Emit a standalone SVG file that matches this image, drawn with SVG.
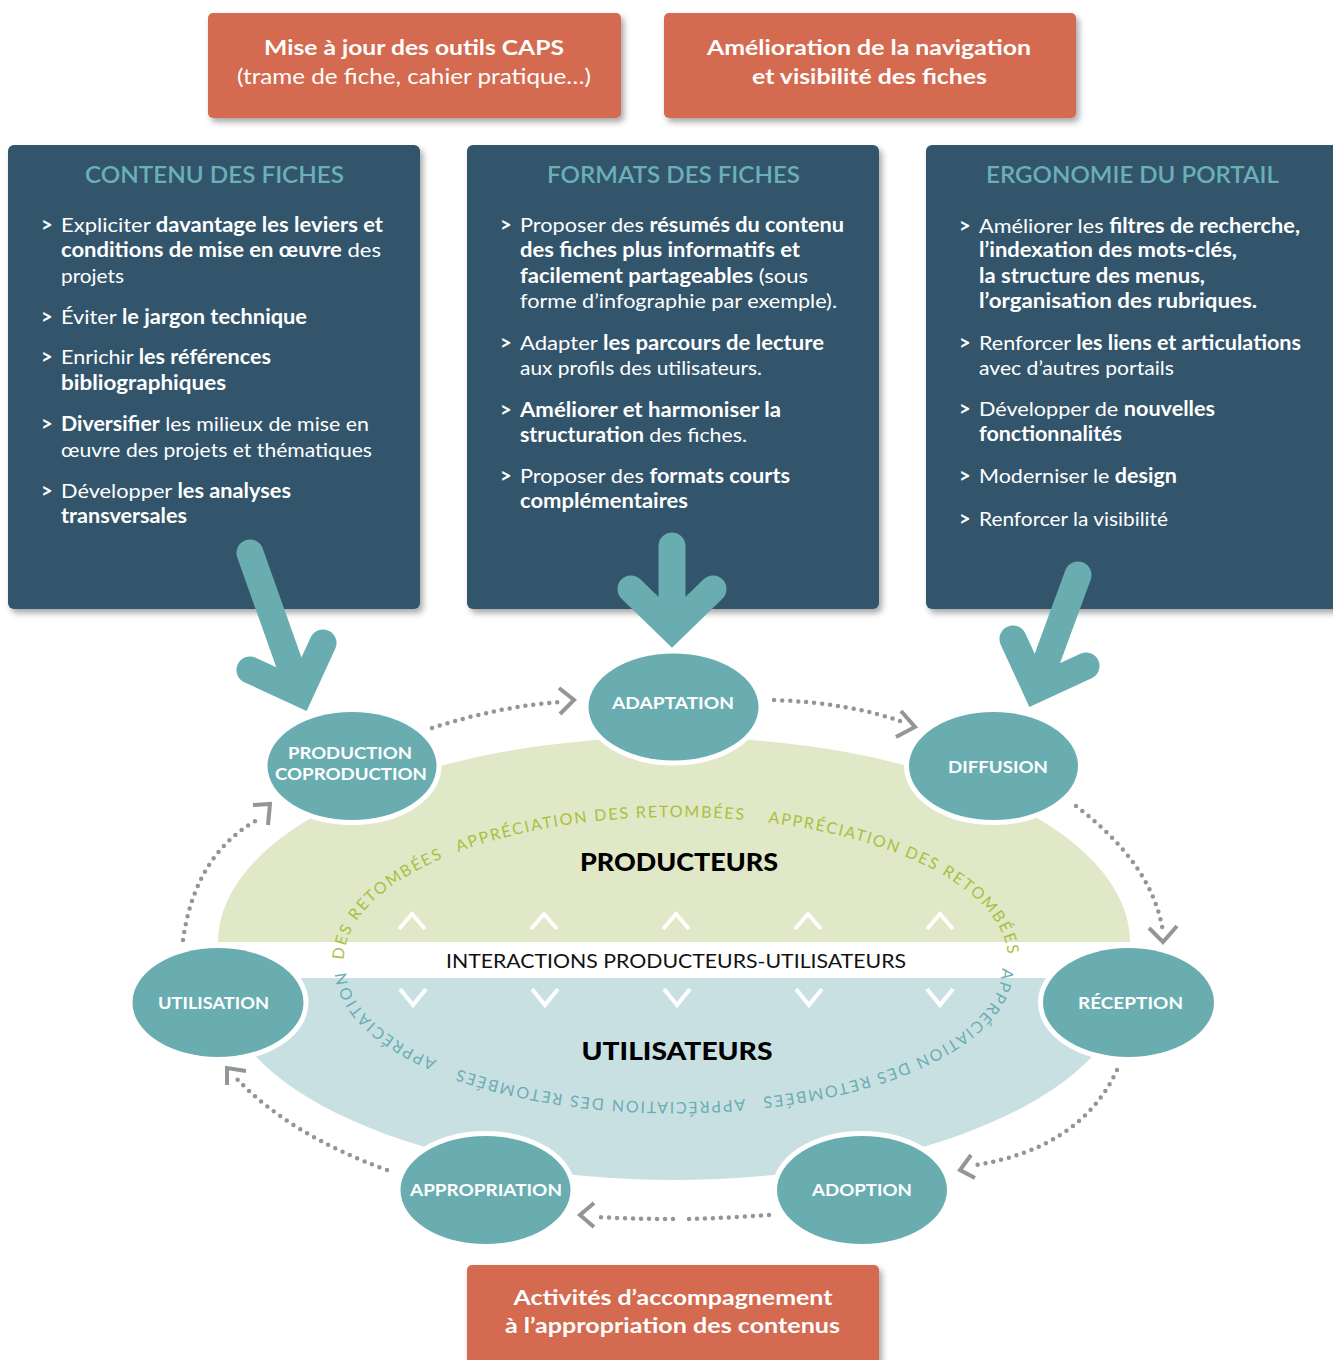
<svg xmlns="http://www.w3.org/2000/svg" xmlns:xlink="http://www.w3.org/1999/xlink" width="1333" height="1360" viewBox="0 0 1333 1360">
<defs>
<style>
text{font-family:Lato,"Noto Sans","Liberation Sans",sans-serif}
.b{font-weight:700}
.ob{fill:#D46A4F}
.otx{fill:#fff;font-size:21.5px;text-anchor:middle}
.panel{fill:#31546C}
.pt{fill:#6BB0B4;font-size:23px;font-weight:600;text-anchor:middle}
.tx{fill:#fff;font-size:20px}
.gt{fill:#fff;font-size:20px;font-weight:700}
.node ellipse{fill:#69ADB1;stroke:#fff;stroke-width:10;paint-order:stroke}
.nl{fill:#fff;font-size:17px;font-weight:700;text-anchor:middle}
.big{stroke:#69ADB1;stroke-width:27;fill:none;stroke-linecap:round;stroke-linejoin:miter}
.dot{stroke:#939598;stroke-width:4.5;stroke-dasharray:0 8;stroke-linecap:round;fill:none}
.chev{stroke:#939598;stroke-width:4;fill:none}
.arcG{fill:#A9C03E;font-size:16px;letter-spacing:1.8px}
.arcB{fill:#6AAEB2;font-size:16px;letter-spacing:1.8px}
.wch{stroke:#fff;stroke-width:4;fill:none}
.big2{fill:#000;font-size:25px;font-weight:900;text-anchor:middle}
</style>
<filter id="sh" x="-5%" y="-5%" width="115%" height="120%">
<feDropShadow dx="3" dy="4" stdDeviation="3" flood-color="#000" flood-opacity="0.35"/>
</filter>
<path id="arcTop" d="M344,960 A332,143 0 0 1 1008,960"/>
<path id="arcBot" d="M1002,968 A328,134 0 0 1 346,968"/>
</defs>

<g id="box-caps">
<rect class="ob" x="208" y="13" width="413" height="105" rx="5" filter="url(#sh)"/>
<text class="otx b" x="414" y="55" textLength="300" lengthAdjust="spacingAndGlyphs">Mise à jour des outils CAPS</text>
<text class="otx" x="414" y="84" textLength="354" lengthAdjust="spacingAndGlyphs">(trame de fiche, cahier pratique…)</text>
</g>
<g id="box-navigation">
<rect class="ob" x="664" y="13" width="412" height="105" rx="5" filter="url(#sh)"/>
<text class="otx b" x="869" y="55" textLength="324" lengthAdjust="spacingAndGlyphs">Amélioration de la navigation</text>
<text class="otx b" x="869.5" y="84" textLength="235" lengthAdjust="spacingAndGlyphs">et visibilité des fiches</text>
</g>

<g id="panel-contenu">
<rect class="panel" x="8" y="145" width="412" height="464" rx="6" filter="url(#sh)"/>
<text class="pt" x="214.5" y="183" textLength="259" lengthAdjust="spacingAndGlyphs">CONTENU DES FICHES</text>
<text class="gt" x="41" y="232">&gt;</text>
<text class="tx" x="61" y="232" textLength="322" lengthAdjust="spacingAndGlyphs">Expliciter <tspan class="b">davantage les leviers et</tspan></text>
<text class="tx" x="61" y="257" textLength="320" lengthAdjust="spacingAndGlyphs"><tspan class="b">conditions de mise en œuvre</tspan> des</text>
<text class="tx" x="61" y="283" textLength="63" lengthAdjust="spacingAndGlyphs">projets</text>
<text class="gt" x="41" y="324">&gt;</text>
<text class="tx" x="61" y="324" textLength="246" lengthAdjust="spacingAndGlyphs">Éviter <tspan class="b">le jargon technique</tspan></text>
<text class="gt" x="41" y="364">&gt;</text>
<text class="tx" x="61" y="364" textLength="210" lengthAdjust="spacingAndGlyphs">Enrichir <tspan class="b">les références</tspan></text>
<text class="tx b" x="61" y="390" textLength="165" lengthAdjust="spacingAndGlyphs">bibliographiques</text>
<text class="gt" x="41" y="431">&gt;</text>
<text class="tx" x="61" y="431" textLength="308" lengthAdjust="spacingAndGlyphs"><tspan class="b">Diversifier</tspan> les milieux de mise en</text>
<text class="tx" x="61" y="457" textLength="311" lengthAdjust="spacingAndGlyphs">œuvre des projets et thématiques</text>
<text class="gt" x="41" y="498">&gt;</text>
<text class="tx" x="61" y="498" textLength="230" lengthAdjust="spacingAndGlyphs">Développer <tspan class="b">les analyses</tspan></text>
<text class="tx b" x="61" y="523" textLength="126" lengthAdjust="spacingAndGlyphs">transversales</text>
</g>

<g id="panel-formats">
<rect class="panel" x="467" y="145" width="412" height="464" rx="6" filter="url(#sh)"/>
<text class="pt" x="673.5" y="183" textLength="253" lengthAdjust="spacingAndGlyphs">FORMATS DES FICHES</text>
<text class="gt" x="500" y="232">&gt;</text>
<text class="tx" x="520" y="232" textLength="324" lengthAdjust="spacingAndGlyphs">Proposer des <tspan class="b">résumés du contenu</tspan></text>
<text class="tx b" x="520" y="257" textLength="280" lengthAdjust="spacingAndGlyphs">des fiches plus informatifs et</text>
<text class="tx" x="520" y="283" textLength="288" lengthAdjust="spacingAndGlyphs"><tspan class="b">facilement partageables</tspan> (sous</text>
<text class="tx" x="520" y="308" textLength="317" lengthAdjust="spacingAndGlyphs">forme d’infographie par exemple).</text>
<text class="gt" x="500" y="350">&gt;</text>
<text class="tx" x="520" y="350" textLength="304" lengthAdjust="spacingAndGlyphs">Adapter <tspan class="b">les parcours de lecture</tspan></text>
<text class="tx" x="520" y="375" textLength="242" lengthAdjust="spacingAndGlyphs">aux profils des utilisateurs.</text>
<text class="gt" x="500" y="417">&gt;</text>
<text class="tx b" x="520" y="417" textLength="261" lengthAdjust="spacingAndGlyphs">Améliorer et harmoniser la</text>
<text class="tx" x="520" y="442" textLength="227" lengthAdjust="spacingAndGlyphs"><tspan class="b">structuration</tspan> des fiches.</text>
<text class="gt" x="500" y="483">&gt;</text>
<text class="tx" x="520" y="483" textLength="270" lengthAdjust="spacingAndGlyphs">Proposer des <tspan class="b">formats courts</tspan></text>
<text class="tx b" x="520" y="508" textLength="168" lengthAdjust="spacingAndGlyphs">complémentaires</text>
</g>

<g id="panel-ergonomie">
<rect class="panel" x="926" y="145" width="420" height="464" rx="6" filter="url(#sh)"/>
<text class="pt" x="1132.5" y="183" textLength="293" lengthAdjust="spacingAndGlyphs">ERGONOMIE DU PORTAIL</text>
<text class="gt" x="959" y="233">&gt;</text>
<text class="tx" x="979" y="233" textLength="321" lengthAdjust="spacingAndGlyphs">Améliorer les <tspan class="b">filtres de recherche,</tspan></text>
<text class="tx b" x="979" y="257" textLength="258" lengthAdjust="spacingAndGlyphs">l’indexation des mots-clés,</text>
<text class="tx b" x="979" y="283" textLength="226" lengthAdjust="spacingAndGlyphs">la structure des menus,</text>
<text class="tx b" x="979" y="308" textLength="278" lengthAdjust="spacingAndGlyphs">l’organisation des rubriques.</text>
<text class="gt" x="959" y="350">&gt;</text>
<text class="tx" x="979" y="350" textLength="322" lengthAdjust="spacingAndGlyphs">Renforcer <tspan class="b">les liens et articulations</tspan></text>
<text class="tx" x="979" y="375" textLength="195" lengthAdjust="spacingAndGlyphs">avec d’autres portails</text>
<text class="gt" x="959" y="416">&gt;</text>
<text class="tx" x="979" y="416" textLength="236" lengthAdjust="spacingAndGlyphs">Développer de <tspan class="b">nouvelles</tspan></text>
<text class="tx b" x="979" y="441" textLength="143" lengthAdjust="spacingAndGlyphs">fonctionnalités</text>
<text class="gt" x="959" y="483">&gt;</text>
<text class="tx" x="979" y="483" textLength="198" lengthAdjust="spacingAndGlyphs">Moderniser le <tspan class="b">design</tspan></text>
<text class="gt" x="959" y="526">&gt;</text>
<text class="tx" x="979" y="526" textLength="189" lengthAdjust="spacingAndGlyphs">Renforcer la visibilité</text>
</g>

<g id="box-accompagnement">
<rect class="ob" x="467" y="1265" width="412" height="110" rx="5" filter="url(#sh)"/>
<text class="otx b" x="673" y="1305" textLength="319" lengthAdjust="spacingAndGlyphs">Activités d’accompagnement</text>
<text class="otx b" x="672.5" y="1333" textLength="335" lengthAdjust="spacingAndGlyphs">à l’appropriation des contenus</text>
</g>

<g id="producteurs">
<path d="M218,942 A456,205 0 0 1 1130,942 Z" fill="#E0E8C8"/>
<text class="big2" x="679" y="871" textLength="198" lengthAdjust="spacingAndGlyphs">PRODUCTEURS</text>
<polyline class="wch" points="399,929 412,914 425,929"/>
<polyline class="wch" points="531,929 544,914 557,929"/>
<polyline class="wch" points="663,929 676,914 689,929"/>
<polyline class="wch" points="795,929 808,914 821,929"/>
<polyline class="wch" points="927,929 940,914 953,929"/>
<text class="arcG"><textPath href="#arcTop" startOffset="0">DES RETOMBÉES</textPath></text>
<text class="arcG"><textPath href="#arcTop" startOffset="166">APPRÉCIATION DES RETOMBÉES</textPath></text>
<text class="arcG"><textPath href="#arcTop" startOffset="480">APPRÉCIATION DES RETOMBÉES</textPath></text>
</g>

<g id="interactions">
<text x="676" y="968" font-size="19" fill="#111" text-anchor="middle" textLength="460" lengthAdjust="spacingAndGlyphs">INTERACTIONS PRODUCTEURS-UTILISATEURS</text>
</g>

<g id="utilisateurs">
<path d="M220,978 A454,202 0 0 0 1128,978 Z" fill="#C9E0E3"/>
<text class="big2" x="677" y="1060" textLength="191" lengthAdjust="spacingAndGlyphs">UTILISATEURS</text>
<polyline class="wch" points="400,989 413,1005 426,989"/>
<polyline class="wch" points="532,989 545,1005 558,989"/>
<polyline class="wch" points="664,989 677,1005 690,989"/>
<polyline class="wch" points="796,989 809,1005 822,989"/>
<polyline class="wch" points="927,989 940,1005 953,989"/>
<text class="arcB"><textPath href="#arcBot" startOffset="0">APPRÉCIATION DES RETOMBÉES</textPath></text>
<text class="arcB"><textPath href="#arcBot" startOffset="308">APPRÉCIATION DES RETOMBÉES</textPath></text>
<text class="arcB"><textPath href="#arcBot" startOffset="621">APPRÉCIATION</textPath></text>
</g>

<g id="connectors">
<line class="big" x1="250" y1="553" x2="298" y2="688"/>
<polyline class="big" points="250,670 300,693 323,643"/>
<line class="big" x1="672" y1="546" x2="672" y2="625"/>
<polyline class="big" points="631,589 672,629 713,589"/>
<line class="big" x1="1078" y1="575" x2="1038" y2="684"/>
<polyline class="big" points="1013,639 1036,689 1086,666"/>

<path class="dot" d="M432,728 Q500,706 562,702"/>
<polyline class="chev" points="559,688 574,700 560,714"/>
<path class="dot" d="M774,700 Q850,703 903,722"/>
<polyline class="chev" points="901,711 915,727 896,737"/>
<path class="dot" d="M1076,806 C1120,840 1155,880 1163,932"/>
<polyline class="chev" points="1149,928 1163,942 1177,926"/>
<path class="dot" d="M1117,1070 Q1080,1150 970,1166"/>
<polyline class="chev" points="971,1155 960,1170 975,1178"/>
<path class="dot" d="M769,1215 Q727,1218 686,1219"/>
<path class="dot" d="M673,1219 Q635,1219 597,1217"/>
<polyline class="chev" points="594,1203 580,1215 594,1227"/>
<path class="dot" d="M387,1170 Q290,1135 236,1078"/>
<polyline class="chev" points="227,1085 227,1068 246,1071"/>
<path class="dot" d="M183,940 Q195,855 257,820"/>
<polyline class="chev" points="253,805 270,804 268,825"/>
</g>

<g id="node-adaptation" class="node">
<ellipse cx="673.5" cy="707" rx="85" ry="53.5"/>
<text class="nl" x="673" y="709" textLength="122" lengthAdjust="spacingAndGlyphs">ADAPTATION</text>
</g>
<g id="node-production" class="node">
<ellipse cx="352" cy="766" rx="84.5" ry="54"/>
<text class="nl" x="350" y="759" textLength="124" lengthAdjust="spacingAndGlyphs">PRODUCTION</text>
<text class="nl" x="351" y="780" textLength="152" lengthAdjust="spacingAndGlyphs">COPRODUCTION</text>
</g>
<g id="node-diffusion" class="node">
<ellipse cx="993.5" cy="766" rx="84.5" ry="54"/>
<text class="nl" x="998" y="773" textLength="100" lengthAdjust="spacingAndGlyphs">DIFFUSION</text>
</g>
<g id="node-utilisation" class="node">
<ellipse cx="218" cy="1002.5" rx="85.5" ry="54.5"/>
<text class="nl" x="213.5" y="1009" textLength="111" lengthAdjust="spacingAndGlyphs">UTILISATION</text>
</g>
<g id="node-reception" class="node">
<ellipse cx="1128.5" cy="1002.5" rx="85.5" ry="54.5"/>
<text class="nl" x="1130.5" y="1009" textLength="105" lengthAdjust="spacingAndGlyphs">RÉCEPTION</text>
</g>
<g id="node-appropriation" class="node">
<ellipse cx="485.5" cy="1190" rx="85" ry="54"/>
<text class="nl" x="486" y="1196" textLength="152" lengthAdjust="spacingAndGlyphs">APPROPRIATION</text>
</g>
<g id="node-adoption" class="node">
<ellipse cx="862" cy="1190" rx="85" ry="54"/>
<text class="nl" x="862" y="1196" textLength="100" lengthAdjust="spacingAndGlyphs">ADOPTION</text>
</g>
</svg>
